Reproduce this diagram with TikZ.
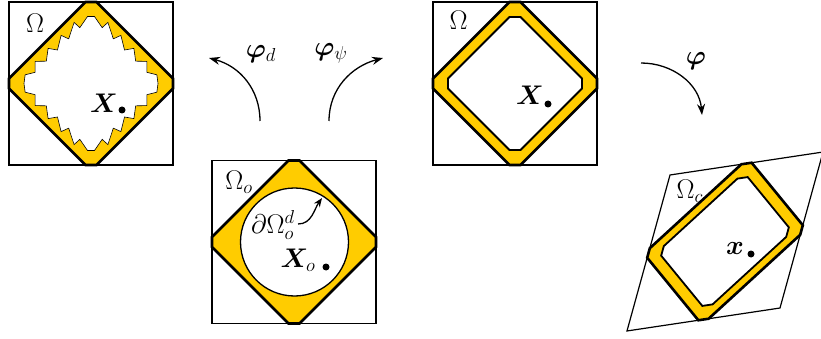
\documentclass[tikz,border=0pt]{standalone}
\usepackage{amsmath,bm}
\usetikzlibrary{arrows.meta,calc}
\definecolor{gold}{RGB}{255,204,0}
\newcommand\DrawOuterDiamond{%
  \filldraw[outerd] (-82,-5) -- (-5.5,-81.5) -- (5.5,-81.5) -- (82,-5) -- (82,5) -- (5.5,81.5) -- (-5.5,81.5) -- (-82,5) -- cycle;}
\newcommand\DrawBox{\draw[boxline] (-82,-81.5) rectangle (82,81.5);}
\begin{document}
\begin{tikzpicture}[x=1pt,y=-1pt,
  boxline/.style={line width=1.4pt},
  outerd/.style={line width=2.6pt,fill=gold,line join=miter},
  innerd/.style={line width=1.8pt,fill=white},
  lbl/.style={font=\huge,inner sep=0pt,scale=1.3,transform shape},
  dotn/.style={circle,fill=black,inner sep=0pt,minimum size=7pt},
  arr/.style={line width=1.3pt,-{Stealth[length=11pt,width=8pt]}}]
\useasboundingbox (0,0) rectangle (821,339);

% ---------- panel 1 (phi_d) ----------
\begin{scope}[shift={(91,83.5)}]
  \DrawOuterDiamond
  \filldraw[fill=white,line width=0.6pt,line join=miter] (-67,0)
    \foreach \ax/\ay/\bx/\by/\f in {-1/0/0/-1/0.7, 0/-1/1/0/0.3, 1/0/0/1/0.7, 0/1/-1/0/0.3}{
      \foreach \k [evaluate=\k as \tp using (\k+\f)/6, evaluate=\k as \td using (\k+1)/6] in {0,...,5}{
        -- ({(67+11*min(1,4*\tp*(1-\tp)/0.6))*((1-\tp)*\ax+\tp*\bx)},{(67+11*min(1,4*\tp*(1-\tp)/0.6))*((1-\tp)*\ay+\tp*\by)})
        -- ({67*((1-\td)*\ax+\td*\bx)},{67*((1-\td)*\ay+\td*\by)})
      }
    } -- cycle;
  \DrawBox
\end{scope}
\node[lbl] (om1) at (35,23) {$\Omega$};
\node[lbl] (X1) at (104,103.5) {$\bm{X}$};
\node[dotn] (d1) at (122,110) {};

% ---------- panel 2 (reference) ----------
\begin{scope}[shift={(294,242)}]
  \DrawOuterDiamond
  \filldraw[fill=white,line width=1.3pt] (0.5,0) circle (54);
  \DrawBox
\end{scope}
\node[lbl] (om2) at (239,182) {$\Omega_o$};
\node[lbl] (dom) at (273,225) {$\partial\Omega_o^d$};
\coordinate (dtip) at (322,198);
\draw[line width=1.3pt,-{Stealth[length=9pt,width=7pt]}] (dom.east) ++(3,-1) to[out=0,in=235] (dtip);
\node[lbl] (X2) at (298,260) {$\bm{X}_o$};
\node[dotn] (d2) at (326,267) {};

% ---------- panel 3 (phi_psi) ----------
\begin{scope}[shift={(515,83.5)}]
  \DrawOuterDiamond
  \filldraw[innerd] (-67,-5) -- (-5.5,-66.5) -- (5.5,-66.5) -- (67,-5) -- (67,5) -- (5.5,66.5) -- (-5.5,66.5) -- (-67,5) -- cycle;
  \DrawBox
\end{scope}
\node[lbl] (om3) at (458.5,20.5) {$\Omega$};
\node[lbl] (X3) at (530,95) {$\bm{X}$};
\node[dotn] (d3) at (548,104) {};

% ---------- panel 4 (current) ----------
\begin{scope}[cm={0.933,0.140,0.264,0.957,(725,241.5)}]
  \DrawOuterDiamond
  \filldraw[innerd] (-67,-5) -- (-5.5,-66.5) -- (5.5,-66.5) -- (67,-5) -- (67,5) -- (5.5,66.5) -- (-5.5,66.5) -- (-67,5) -- cycle;
  \draw[line width=1.2pt] (-82,-81.5) rectangle (82,81.5);
\end{scope}
\node[lbl] (om4) at (690,191) {$\Omega_c$};
\node[lbl] (x4) at (735,249) {$\bm{x}$};
\node[dotn] (d4) at (751,254) {};

% ---------- mapping arrows ----------
\coordinate (pd0) at (260,121);
\coordinate (pd1) at (209,58);
\draw[arr] (pd0) to[out=90,in=-15] (pd1);
\node[lbl] (lpd) at (261,54) {$\bm{\varphi}_d$};

\coordinate (pp0) at (329,121);
\coordinate (pp1) at (383,58);
\draw[arr] (pp0) to[out=90,in=195] (pp1);
\node[lbl] (lpp) at (331,53) {$\bm{\varphi}_\psi$};

\coordinate (p0) at (641,63);
\coordinate (p1) at (702,115);
\draw[arr] (p0) to[out=0,in=95] (p1);
\node[lbl] (lp) at (696,61) {$\bm{\varphi}$};
\end{tikzpicture}
\end{document}
